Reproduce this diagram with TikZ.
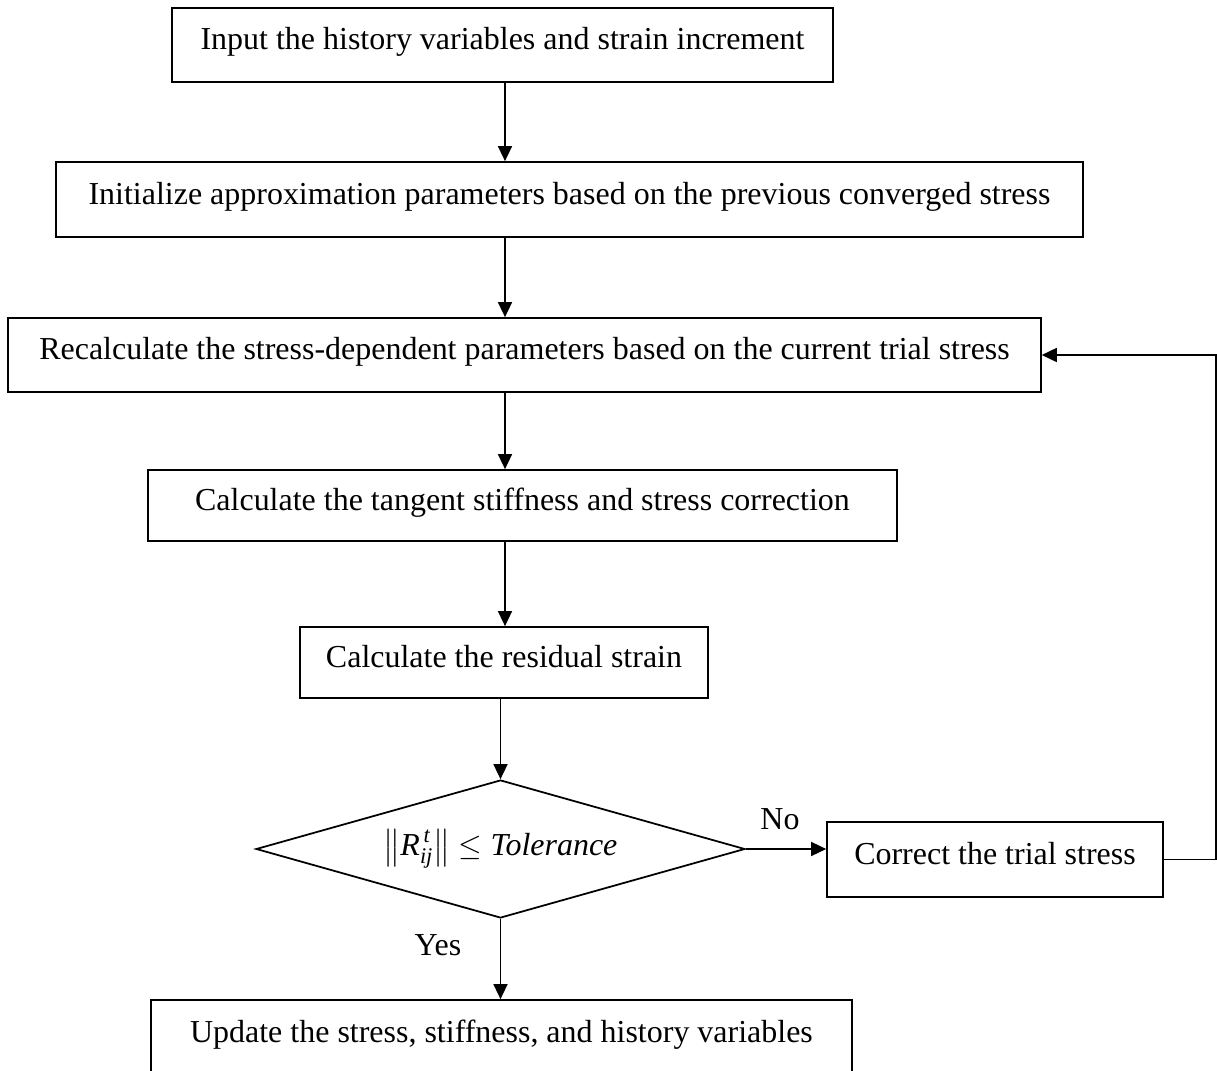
\documentclass[tikz,border=0pt]{standalone}
\usepackage{amsmath}
\usepackage{fontspec}
\setmainfont{Liberation Serif}
\usetikzlibrary{shapes.geometric,arrows.meta}
\begin{document}
\begin{tikzpicture}[x=0.02cm,y=-0.02cm,
  font=\fontsize{18.2}{22}\selectfont,
  box/.style={draw, line width=1pt, rectangle, inner xsep=0pt, inner ysep=0pt,
              text height=0.68cm, text depth=0.48cm},
  dec/.style={draw, line width=1pt, diamond, inner sep=0pt, aspect=3.54},
  arr/.style={line width=0.9pt, -{Triangle[length=0.3cm,width=0.28cm]}},
  lbl/.style={inner sep=0pt}]
\clip (0,0) rectangle (1217,1071);
\coordinate (ax) at (505,0);
\node[box, minimum width=13.22cm, minimum height=1.48cm] (b1) at (502.5,45)
  {Input the history variables and strain increment};
\node[box, minimum width=20.54cm, minimum height=1.50cm] (b2) at (569.5,199.5)
  {Initialize approximation parameters based on the previous converged stress};
\node[box, minimum width=20.66cm, minimum height=1.48cm] (b3) at (524.5,355)
  {Recalculate the stress-dependent parameters based on the current trial stress};
\node[box, minimum width=14.98cm, minimum height=1.42cm] (b4) at (522.5,505.5)
  {Calculate the tangent stiffness and stress correction};
\node[box, minimum width=8.16cm, minimum height=1.42cm] (b5) at (504,662.5)
  {Calculate the residual strain};
\node[dec, minimum width=9.78cm, minimum height=2.76cm] (d) at (500.5,849)
  {$\left\|\textit{R}^{\,\textit{t}}_{\textit{ij}}\right\|\le\textit{Tolerance}$};
\node[box, minimum width=6.72cm, minimum height=1.50cm] (b6) at (995,859.5)
  {Correct the trial stress};
\node[box, minimum width=14.02cm, minimum height=1.50cm] (b7) at (501.5,1037.5)
  {Update the stress, stiffness, and history variables};
\node[lbl] (no) at (780,819) {No};
\node[lbl] (yes) at (438,945) {Yes};
\draw[arr] (b1.south -| ax) -- (b2.north -| ax);
\draw[arr] (b2.south -| ax) -- (b3.north -| ax);
\draw[arr] (b3.south -| ax) -- (b4.north -| ax);
\draw[arr] (b4.south -| ax) -- (b5.north -| ax);
\draw[arr] (b5.south -| d.north) -- (d.north);
\draw[arr] (d.south) -- (b7.north -| d.south);
\draw[arr] (d.east) -- (d.east -| b6.west);
\draw[arr] (b6.east) -- ++(52,0) |- (b3.east);
\end{tikzpicture}
\end{document}
